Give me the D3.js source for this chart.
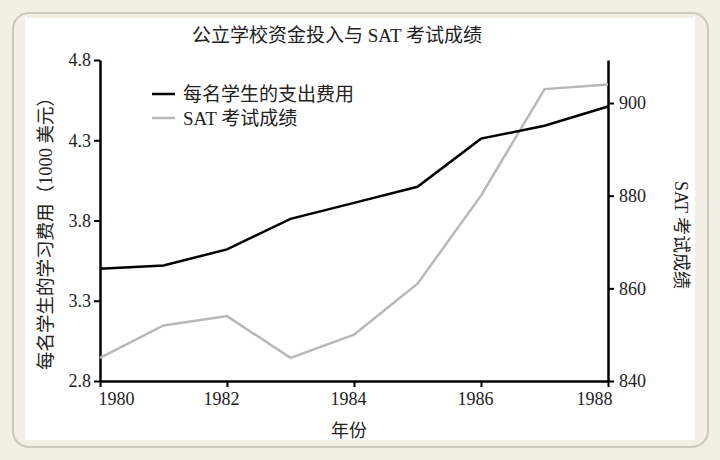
<!DOCTYPE html>
<html>
<head>
<meta charset="utf-8">
<script src="https://cdn.jsdelivr.net/npm/d3@7"></script>
<style>
  html, body { margin: 0; padding: 0; background: #f3efe5; }
  svg text { font-family: "Liberation Serif", "DejaVu Serif", "Noto Sans CJK SC", serif; }
</style>
</head>
<body>
<svg id="chart" width="720" height="460"></svg>
<script>
// data
const years = [1980, 1981, 1982, 1983, 1984, 1985, 1986, 1987, 1988];
const spending = [3.50, 3.52, 3.62, 3.81, 3.91, 4.01, 4.31, 4.39, 4.51];
const satScores = [845, 852, 854, 845, 850, 861, 880, 903, 904];
const xTicks = [1980, 1982, 1984, 1986, 1988];
const leftTicks = [2.8, 3.3, 3.8, 4.3, 4.8];
const rightTicks = [840, 860, 880, 900];

const svg = d3.select('#chart');
const margin = { top: 60, right: 112, bottom: 79, left: 100 };
const width = 720 - margin.left - margin.right,
  height = 460 - margin.top - margin.bottom;

// frame
svg.append('rect')
  .attr('x', 0).attr('y', 0).attr('width', 720).attr('height', 460)
  .attr('fill', '#f3efe5');
svg.append('rect')
  .attr('x', 13).attr('y', 13).attr('width', 695).attr('height', 434)
  .attr('rx', 16)
  .attr('fill', '#f3efe5')
  .attr('stroke', '#cdc9bf')
  .attr('stroke-width', 2);
svg.append('rect')
  .attr('x', 25).attr('y', 18).attr('width', 670).attr('height', 422)
  .attr('fill', '#ffffff');

const x = d3.scaleLinear().domain([1980, 1988]).range([0, width]);
const yLeft = d3.scaleLinear().domain([2.8, 4.8]).range([height, 0]);
// right axis: 840..900 spans ~278px, top of axis a bit above 900
const yRight = d3.scaleLinear().domain([840, 840 + 60 * height / 278]).range([height, 0]);

const g = svg.append('g').attr('transform', `translate(${margin.left},${margin.top})`);

svg.append('text')
  .attr('x', 337).attr('y', 42)
  .attr('text-anchor', 'middle')
  .style('font-size', '19px')
  .style('fill', '#222')
  .text('公立学校资金投入与 SAT 考试成绩');

const styleAxis = sel => {
  sel.select('.domain').attr('stroke', '#000').attr('stroke-width', 2.5);
  sel.selectAll('.tick line').attr('stroke', '#000').attr('stroke-width', 2);
  sel.selectAll('.tick text').style('font-size', '18px').style('fill', '#222');
};

const xAxisG = g.append('g')
  .attr('transform', `translate(0,${height})`)
  .call(d3.axisBottom(x).tickValues(xTicks).tickFormat(d3.format('d')).tickSize(6).tickSizeOuter(0).tickPadding(5))
  .call(styleAxis);

// first and last year labels sit inside the axis ends, the rest a little left
xAxisG.selectAll('.tick text')
  .attr('text-anchor', (d, i) => i === 0 ? 'start' : (i === xTicks.length - 1 ? 'end' : 'middle'))
  .attr('x', (d, i) => i === 0 ? -2 : (i === xTicks.length - 1 ? 4 : -6));

g.append('g')
  .call(d3.axisLeft(yLeft).tickValues(leftTicks).tickFormat(d3.format('.1f')).tickSize(6).tickSizeOuter(0).tickPadding(3))
  .call(styleAxis);

g.append('g')
  .attr('transform', `translate(${width},0)`)
  .call(d3.axisRight(yRight).tickValues(rightTicks).tickSize(6).tickSizeOuter(0).tickPadding(5))
  .call(styleAxis);

// lines
const spendLine = d3.line().x((d, i) => x(years[i])).y(d => yLeft(d));
const satLine = d3.line().x((d, i) => x(years[i])).y(d => yRight(d));

g.append('path')
  .datum(satScores)
  .attr('fill', 'none')
  .attr('stroke', '#b8b8b8')
  .attr('stroke-width', 2.5)
  .attr('d', satLine);

g.append('path')
  .datum(spending)
  .attr('fill', 'none')
  .attr('stroke', '#000')
  .attr('stroke-width', 2.5)
  .attr('d', spendLine);

// legend
const legendItems = [
  { label: '每名学生的支出费用', color: '#000' },
  { label: 'SAT 考试成绩', color: '#b8b8b8' }
];
const legend = g.selectAll('.legend')
  .data(legendItems)
  .enter()
  .append('g')
  .attr('class', 'legend')
  .attr('transform', (d, i) => `translate(52,${34 + i * 24})`);
legend.append('line')
  .attr('x1', 0).attr('x2', 23)
  .attr('stroke', d => d.color)
  .attr('stroke-width', 2.5);
legend.append('text')
  .attr('x', 31).attr('dy', '0.35em')
  .style('font-size', '19px')
  .style('fill', '#222')
  .text(d => d.label);

// axis titles
svg.append('text')
  .attr('x', 349).attr('y', 437)
  .attr('text-anchor', 'middle')
  .style('font-size', '18px')
  .style('fill', '#222')
  .text('年份');

svg.append('text')
  .attr('transform', `translate(52,229) rotate(-90)`)
  .attr('text-anchor', 'middle')
  .style('font-size', '18.5px')
  .style('fill', '#222')
  .text('每名学生的学习费用（1000 美元）');

svg.append('text')
  .attr('transform', `translate(675,235) rotate(90)`)
  .attr('text-anchor', 'middle')
  .style('font-size', '18px')
  .style('fill', '#222')
  .text('SAT 考试成绩');
</script>
</body>
</html>
